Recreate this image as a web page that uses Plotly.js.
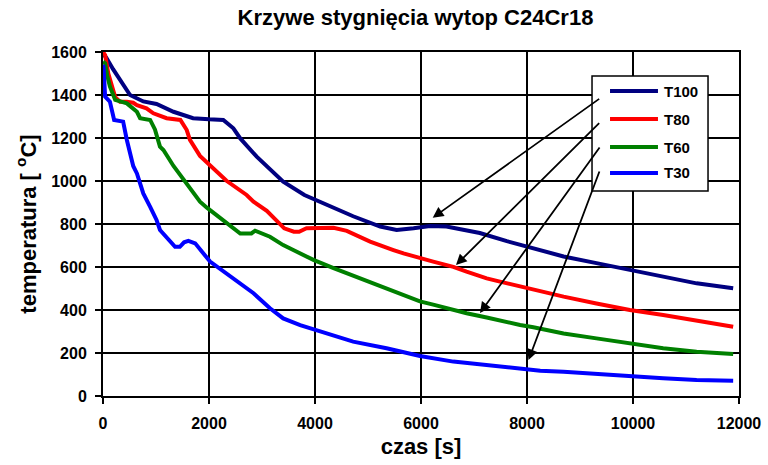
<!DOCTYPE html>
<html>
<head>
<meta charset="utf-8">
<script src="https://cdn.plot.ly/plotly-3.0.1.min.js"></script>
<style>html,body{margin:0;padding:0;background:#fff;}#chart{width:768px;height:465px;}</style>
</head>
<body>
<div id="chart"></div>
<script>
// ---- data ----
const seriesNames = ['T100', 'T80', 'T60', 'T30'];
const seriesColors = ['#000080', '#FF0000', '#008000', '#0000FF'];

const t100X = [0, 60, 190, 380, 510, 760, 1010, 1330, 1700, 2000, 2270, 2460, 2590, 2900, 3400, 3800, 4350, 4720, 5230, 5540, 5860, 6170, 6480, 7110, 7620, 8120, 8690, 9310, 9940, 10570, 11200, 11890];
const t100Y = [1590, 1575, 1520, 1450, 1400, 1370, 1358, 1322, 1292, 1287, 1284, 1245, 1198, 1113, 997, 935, 877, 836, 788, 772, 780, 791, 788, 758, 720, 688, 649, 618, 586, 555, 524, 501];

const t80X = [0, 40, 100, 230, 320, 450, 570, 640, 820, 950, 1200, 1460, 1580, 1640, 1830, 2330, 2710, 2840, 3090, 3340, 3420, 3600, 3700, 3840, 3970, 4350, 4600, 4850, 5040, 5480, 5670, 6230, 6610, 6860, 7240, 7490, 8120, 8690, 9310, 9940, 10570, 11200, 11890];
const t80Y = [1600, 1586, 1500, 1390, 1369, 1369, 1364, 1353, 1338, 1315, 1292, 1284, 1237, 1191, 1117, 1001, 935, 904, 861, 795, 780, 764, 764, 780, 780, 782, 768, 741, 718, 679, 663, 625, 601, 578, 547, 532, 493, 462, 430, 400, 377, 353, 322];

const t60X = [0, 40, 80, 130, 230, 450, 640, 700, 890, 980, 1075, 1140, 1330, 1580, 1830, 1960, 2330, 2590, 2800, 2870, 3150, 3400, 3590, 3720, 3970, 4350, 4720, 5000, 5350, 5600, 5980, 6230, 6610, 6860, 7240, 7490, 7870, 8120, 8690, 9310, 9940, 10570, 11200, 11890];
const t60Y = [1555, 1547, 1490, 1440, 1377, 1361, 1322, 1292, 1284, 1240, 1160, 1144, 1070, 989, 904, 876, 803, 756, 756, 769, 741, 702, 679, 663, 633, 595, 560, 532, 497, 478, 440, 425, 398, 385, 365, 350, 330, 320, 291, 268, 245, 222, 206, 195];

const t30X = [0, 10, 40, 130, 210, 320, 380, 450, 570, 640, 760, 890, 1010, 1075, 1200, 1360, 1450, 1530, 1610, 1740, 2020, 2460, 2840, 3150, 3400, 3720, 4100, 4280, 4720, 5350, 5980, 6610, 7240, 7870, 8250, 8690, 9310, 9940, 10570, 11200, 11890];
const t30Y = [1540, 1532, 1392, 1369, 1284, 1276, 1276, 1191, 1070, 1035, 942, 880, 819, 772, 735, 694, 694, 715, 722, 710, 625, 547, 478, 408, 361, 330, 299, 284, 253, 222, 186, 160, 144, 129, 118, 113, 102, 93, 82, 74, 71];

const xTickVals = [0, 2000, 4000, 6000, 8000, 10000, 12000];
const yTickVals = [0, 200, 400, 600, 800, 1000, 1200, 1400, 1600];

// arrows: head points (on curves) and tails (at legend)
const arrowHeadX = [6221, 6660, 7113, 8028];
const arrowHeadY = [829, 609, 386, 167];
const arrowTailX = [9390, 9390, 9390, 9377];
const arrowTailY = [1387, 1276, 1163, 1051];

// ---- build ----
const FONT = 'Liberation Sans, Arial, Helvetica, sans-serif';
const xs = [t100X, t80X, t60X, t30X];
const ys = [t100Y, t80Y, t60Y, t30Y];

const traces = seriesNames.map((n, i) => ({
  type: 'scatter', mode: 'lines', name: n,
  x: xs[i], y: ys[i],
  line: {color: seriesColors[i], width: 4},
  showlegend: false
}));

// manual legend geometry (paper coords)
const legBox = {x0: 0.7689, x1: 0.9513, y0: 0.5959, y1: 0.9302};
const legLineX = [0.7972, 0.8726];
const legTextX = 0.8789;
const legRowY = [0.8866, 0.8052, 0.7238, 0.6483];

const shapes = [{
  type: 'rect', xref: 'paper', yref: 'paper',
  x0: legBox.x0, x1: legBox.x1, y0: legBox.y0, y1: legBox.y1,
  fillcolor: '#ffffff', line: {color: '#000000', width: 1.5}, layer: 'above'
}];
seriesNames.forEach((n, i) => {
  shapes.push({
    type: 'line', xref: 'paper', yref: 'paper',
    x0: legLineX[0], x1: legLineX[1], y0: legRowY[i], y1: legRowY[i],
    line: {color: seriesColors[i], width: 4}, layer: 'above'
  });
});

const annotations = [];
seriesNames.forEach((n, i) => {
  annotations.push({
    xref: 'paper', yref: 'paper', x: legTextX, y: legRowY[i],
    xanchor: 'left', yanchor: 'middle', showarrow: false,
    text: n, font: {family: FONT, size: 15, color: '#000', weight: 700}
  });
});
arrowHeadX.forEach((hx, i) => {
  annotations.push({
    xref: 'x', yref: 'y', x: hx, y: arrowHeadY[i],
    axref: 'x', ayref: 'y', ax: arrowTailX[i], ay: arrowTailY[i],
    text: '', showarrow: true, arrowhead: 2, arrowsize: 1.2, arrowwidth: 1.8,
    arrowcolor: '#000000', standoff: 0, startstandoff: 0
  });
});

const layout = {
  width: 768, height: 465,
  margin: {l: 103, r: 29, t: 52, b: 69, pad: 0},
  paper_bgcolor: '#ffffff', plot_bgcolor: '#ffffff',
  font: {family: FONT, color: '#000000'},
  title: {
    text: 'Krzywe stygnięcia wytop C24Cr18',
    font: {family: FONT, size: 22, weight: 700, color: '#000'},
    xref: 'container', yref: 'container',
    x: 415.5 / 768, xanchor: 'center', y: 1 - 17 / 465, yanchor: 'middle'
  },
  xaxis: {
    range: [0, 12000], tickvals: xTickVals, ticktext: xTickVals.map(String),
    showgrid: true, gridcolor: '#000000', gridwidth: 1.5,
    showline: true, linecolor: '#000000', linewidth: 2, mirror: true,
    zeroline: false, ticks: 'outside', ticklen: 6, tickwidth: 2, tickcolor: '#000',
    ticklabelstandoff: 6,
    tickfont: {family: FONT, size: 16, weight: 700, color: '#000'},
    title: {text: 'czas [s]', standoff: 7, font: {family: FONT, size: 22, weight: 700, color: '#000'}},
    fixedrange: true
  },
  yaxis: {
    range: [0, 1600], tickvals: yTickVals, ticktext: yTickVals.map(String),
    showgrid: true, gridcolor: '#000000', gridwidth: 1.5,
    showline: true, linecolor: '#000000', linewidth: 2, mirror: true,
    zeroline: false, ticks: 'outside', ticklen: 6, tickwidth: 2, tickcolor: '#000',
    ticklabelstandoff: 5,
    tickfont: {family: FONT, size: 16, weight: 700, color: '#000'},
    title: {text: 'temperatura [ <sup>o</sup>C]', standoff: 9, font: {family: FONT, size: 22, weight: 700, color: '#000'}},
    fixedrange: true
  },
  shapes: shapes,
  annotations: annotations,
  showlegend: false
};

Plotly.newPlot('chart', traces, layout, {displayModeBar: false, staticPlot: true});
</script>
</body>
</html>
